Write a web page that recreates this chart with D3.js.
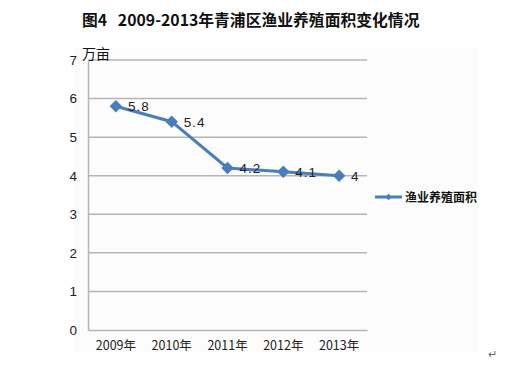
<!DOCTYPE html>
<html><head><meta charset="utf-8">
<script src="https://cdn.jsdelivr.net/npm/d3@7"></script>
<style>body{margin:0;background:#fff}svg{display:block}text{font-family:"Liberation Sans","Noto Sans CJK SC",sans-serif}</style>
</head><body><svg id="c" width="522" height="379"></svg>
<script>
const categories = ["2009年","2010年","2011年","2012年","2013年"];
const values = [5.8, 5.4, 4.2, 4.1, 4];
const labels = ["5.8","5.4","4.2","4.1","4"];
const yTicks = [0,1,2,3,4,5,6,7];
const seriesName = "渔业养殖面积";
const title = "图4\u00a0\u00a0\u00a02009-2013年青浦区渔业养殖面积变化情况";
const yUnit = "万亩";

const svg = d3.select("#c");
const color = "#4a7ebb";
const L = 88, R = 367, T = 60, B = 330;
svg.append("rect").attr("x",73).attr("y",48).attr("width",404).attr("height",304).attr("fill","#fcfcfc");

svg.append("text").attr("x",82).attr("y",26)
  .attr("font-size",15.8).attr("font-weight","bold").attr("fill","#111")
  .style("font-family",'"Noto Sans CJK SC",sans-serif').text(title);

const x = d3.scaleBand().domain(categories).range([L,R]);
const y = d3.scaleLinear().domain([0,7]).range([B,T]);

const grid = svg.append("g");
grid.selectAll("line").data(yTicks.filter(d=>d>0)).join("line")
  .attr("x1",L).attr("x2",R).attr("y1",d=>y(d)).attr("y2",d=>y(d))
  .attr("stroke","#b4b4b4").attr("stroke-width",1.5);

const yAxis = svg.append("g").attr("transform",`translate(${L},0)`)
  .call(d3.axisLeft(y).tickValues(yTicks).tickFormat(d3.format("d")).tickSize(0).tickPadding(11));
yAxis.select(".domain").attr("stroke","#b4b4b4").attr("stroke-width",1.5);
yAxis.selectAll("text").attr("font-size",13.5).attr("fill","#222");

const xAxis = svg.append("g").attr("transform",`translate(0,${B})`)
  .call(d3.axisBottom(x).tickSize(0).tickPadding(11));
xAxis.select(".domain").attr("stroke","#b4b4b4").attr("stroke-width",1.5);
xAxis.selectAll("text").attr("font-size",12.5).attr("fill","#222")
  .style("font-family",'"Noto Sans CJK SC",sans-serif');

svg.append("text").attr("x",82).attr("y",59).attr("font-size",14).attr("fill","#111")
  .style("font-family",'"Noto Sans CJK SC",sans-serif').text(yUnit);

const cx = d => x(d) + x.bandwidth()/2;
const line = d3.line().x((d,i)=>cx(categories[i])).y(d=>y(d));
svg.append("path").datum(values).attr("d",line).attr("fill","none")
  .attr("stroke",color).attr("stroke-width",3);
const sym = d3.symbol().type(d3.symbolSquare).size(78);
svg.selectAll(".pt").data(values).join("path").attr("class","pt")
  .attr("d",sym).attr("transform",(d,i)=>`translate(${cx(categories[i])},${y(d)}) rotate(45)`)
  .attr("fill",color);
svg.selectAll(".lb").data(values).join("text").attr("class","lb")
  .attr("x",(d,i)=>cx(categories[i])+12).attr("y",(d)=>y(d)+5)
  .attr("font-size",13.5).attr("letter-spacing",1).attr("fill","#222").text((d,i)=>labels[i]);

// legend
svg.append("line").attr("x1",375).attr("x2",402).attr("y1",197).attr("y2",197)
  .attr("stroke",color).attr("stroke-width",3);
svg.append("path").attr("d",d3.symbol().type(d3.symbolSquare).size(22))
  .attr("transform","translate(388.5,197) rotate(45)").attr("fill",color);
svg.append("text").attr("x",405).attr("y",201.5).attr("font-size",12).attr("font-weight","bold")
  .attr("fill","#111").style("font-family",'"Noto Sans CJK SC",sans-serif').text(seriesName);

svg.append("text").attr("x",488).attr("y",358).attr("font-size",11).attr("fill","#666").text("↵");
</script></body></html>
